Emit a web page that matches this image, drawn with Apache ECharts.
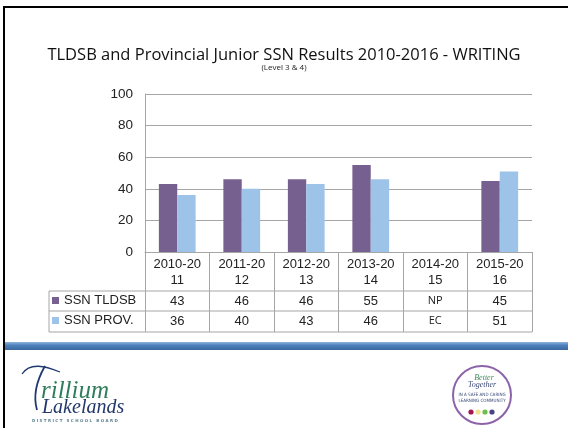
<!DOCTYPE html>
<html>
<head>
<meta charset="utf-8">
<script src="https://cdn.jsdelivr.net/npm/echarts@6/dist/echarts.min.js"></script>
<style>
  html, body { margin: 0; padding: 0; background: #fff; }
  #main { width: 568px; height: 428px; }
</style>
</head>
<body>
<div id="main"></div>
<script>
var years = ['2010-2011', '2011-2012', '2012-2013', '2013-2014', '2014-2015', '2015-2016'];
var tldsb = [43, 46, 46, 55, null, 45];
var prov = [36, 40, 43, 46, null, 51];
// what the table shows when a year has no result
var tldsbNote = 'NP';
var provNote = 'EC';
var yTicks = [0, 20, 40, 60, 80, 100];

var gridLeft = 145, gridRight = 532, gridTop = 94, gridBottom = 252;
var rowA = 291, rowB = 311, rowC = 332, tableLeft = 49;
var lineGrey = '#a6a6a6';
var numFont = '"Liberation Sans", Arial, sans-serif';

function cellLabel(arr, note) {
    return function (v, i) {
        return arr[i] == null ? '{n|' + note + '}' : String(arr[i]);
    };
}

function rowAxis(offset, arr, note) {
    return {
        type: 'category', data: years, position: 'bottom', offset: offset,
        axisLine: { show: false }, axisTick: { show: false },
        axisLabel: {
            margin: 4, fontSize: 13, color: '#222', fontFamily: numFont,
            formatter: cellLabel(arr, note),
            rich: { n: { fontSize: 11, fontFamily: '"Open Sans", sans-serif', color: '#222' } }
        }
    };
}

var myChart = echarts.init(document.getElementById('main'));

var option = {
    animation: false,
    backgroundColor: '#fff',
    title: {
        text: 'TLDSB and Provincial Junior SSN Results 2010-2016 - WRITING',
        subtext: '(Level 3 & 4)',
        left: 'center', top: 42, itemGap: 0,
        textStyle: { fontSize: 16.5, fontWeight: 'normal', color: '#111', fontFamily: '"Open Sans", sans-serif' },
        subtextStyle: { fontSize: 8, color: '#222', fontFamily: '"Open Sans", sans-serif' }
    },
    legend: {
        orient: 'vertical', left: 52, top: 294, padding: 0,
        itemWidth: 7, itemHeight: 7, itemGap: 7, icon: 'rect',
        textStyle: { fontSize: 13, color: '#222', fontFamily: numFont, lineHeight: 13 },
        data: ['SSN TLDSB', 'SSN PROV.']
    },
    grid: { left: gridLeft, right: 568 - gridRight, top: gridTop, bottom: 428 - gridBottom },
    xAxis: [{
        type: 'category', data: years,
        axisLine: { lineStyle: { color: lineGrey } },
        axisTick: { show: true, length: rowC - gridBottom, lineStyle: { color: lineGrey } },
        axisLabel: {
            margin: 4, fontSize: 13, lineHeight: 16, color: '#222', fontFamily: numFont,
            formatter: function (v) { return v.slice(0, 7) + '\n' + v.slice(7); }
        }
    },
        rowAxis(rowA - gridBottom, tldsb, tldsbNote),
        rowAxis(rowB - gridBottom, prov, provNote)
    ],
    yAxis: {
        type: 'value', min: yTicks[0], max: yTicks[yTicks.length - 1], interval: 20,
        axisLine: { show: true, lineStyle: { color: lineGrey } },
        axisTick: { show: false },
        splitLine: { lineStyle: { color: lineGrey } },
        axisLabel: { margin: 12, fontSize: 13.5, color: '#222', fontFamily: numFont }
    },
    series: [
        { name: 'SSN TLDSB', type: 'bar', data: tldsb, barGap: '0%', barCategoryGap: '43%',
          itemStyle: { color: '#76608f' } },
        { name: 'SSN PROV.', type: 'bar', data: prov,
          itemStyle: { color: '#9ec3e8' } }
    ],
    graphic: [
        // slide frame
        { type: 'line', shape: { x1: 4, y1: 7, x2: 568, y2: 7 }, style: { stroke: '#000', lineWidth: 2 } },
        { type: 'line', shape: { x1: 4, y1: 6, x2: 4, y2: 428 }, style: { stroke: '#000', lineWidth: 2 } },
        // data table rules
        { type: 'line', shape: { x1: tableLeft, y1: rowA, x2: gridRight, y2: rowA }, style: { stroke: lineGrey, lineWidth: 1 } },
        { type: 'line', shape: { x1: tableLeft, y1: rowB, x2: gridRight, y2: rowB }, style: { stroke: lineGrey, lineWidth: 1 } },
        { type: 'line', shape: { x1: tableLeft, y1: rowC, x2: gridRight, y2: rowC }, style: { stroke: lineGrey, lineWidth: 1 } },
        { type: 'line', shape: { x1: tableLeft, y1: rowA, x2: tableLeft, y2: rowC }, style: { stroke: lineGrey, lineWidth: 1 } },
        // blue band
        { type: 'rect', shape: { x: 5, y: 342, width: 563, height: 8 },
          style: { fill: new echarts.graphic.LinearGradient(0, 0, 0, 1, [
              { offset: 0, color: '#8fb3dc' }, { offset: 0.4, color: '#4f81bd' }, { offset: 1, color: '#3a679e' }]) } },
        // Trillium Lakelands logo
        { type: 'bezierCurve', shape: { x1: 22, y1: 374, cpx1: 30, cpy1: 362, cpx2: 45, cpy2: 366, x2: 60, y2: 372 },
          style: { stroke: '#1f3a6e', lineWidth: 1.3, fill: null } },
        { type: 'bezierCurve', shape: { x1: 45, y1: 366, cpx1: 37, cpy1: 380, cpx2: 33, cpy2: 396, x2: 37, y2: 410 },
          style: { stroke: '#1f3a6e', lineWidth: 1.8, fill: null } },
        { type: 'text', x: 41, y: 379, style: { text: 'rillium', font: 'italic 25px "Liberation Serif", serif', fill: '#2f7d5a' } },
        { type: 'text', x: 42, y: 398, style: { text: 'Lakelands', font: 'italic 20px "Liberation Serif", serif', fill: '#22386b' } },
        { type: 'text', x: 32, y: 419, style: { text: 'D I S T R I C T   S C H O O L   B O A R D', font: 'bold 4px "DejaVu Sans", sans-serif', fill: '#5b7f8f' } },
        // Better Together logo
        { type: 'circle', shape: { cx: 482, cy: 395, r: 29 }, style: { fill: '#fff', stroke: '#8c63a8', lineWidth: 2 } },
        { type: 'text', x: 484, y: 378, style: { text: 'Better', align: 'center', verticalAlign: 'middle', font: 'italic 8px "Liberation Serif", serif', fill: '#3f8a5e' } },
        { type: 'text', x: 482, y: 385, style: { text: 'Together', align: 'center', verticalAlign: 'middle', font: 'italic 8px "Liberation Serif", serif', fill: '#3a4a78' } },
        { type: 'text', x: 482, y: 395, style: { text: 'IN A SAFE AND CARING', align: 'center', verticalAlign: 'middle', font: '4.5px "DejaVu Sans Condensed", sans-serif', fill: '#3a4a78' } },
        { type: 'text', x: 482, y: 401, style: { text: 'LEARNING COMMUNITY', align: 'center', verticalAlign: 'middle', font: '4.5px "DejaVu Sans Condensed", sans-serif', fill: '#3a4a78' } },
        { type: 'circle', shape: { cx: 471, cy: 412, r: 2.6 }, style: { fill: '#a3164f' } },
        { type: 'circle', shape: { cx: 478, cy: 412, r: 2.6 }, style: { fill: '#efe38c' } },
        { type: 'circle', shape: { cx: 485, cy: 412, r: 2.6 }, style: { fill: '#6cbf4a' } },
        { type: 'circle', shape: { cx: 492, cy: 412, r: 2.6 }, style: { fill: '#45477e' } }
    ]
};

myChart.setOption(option);
</script>
</body>
</html>
